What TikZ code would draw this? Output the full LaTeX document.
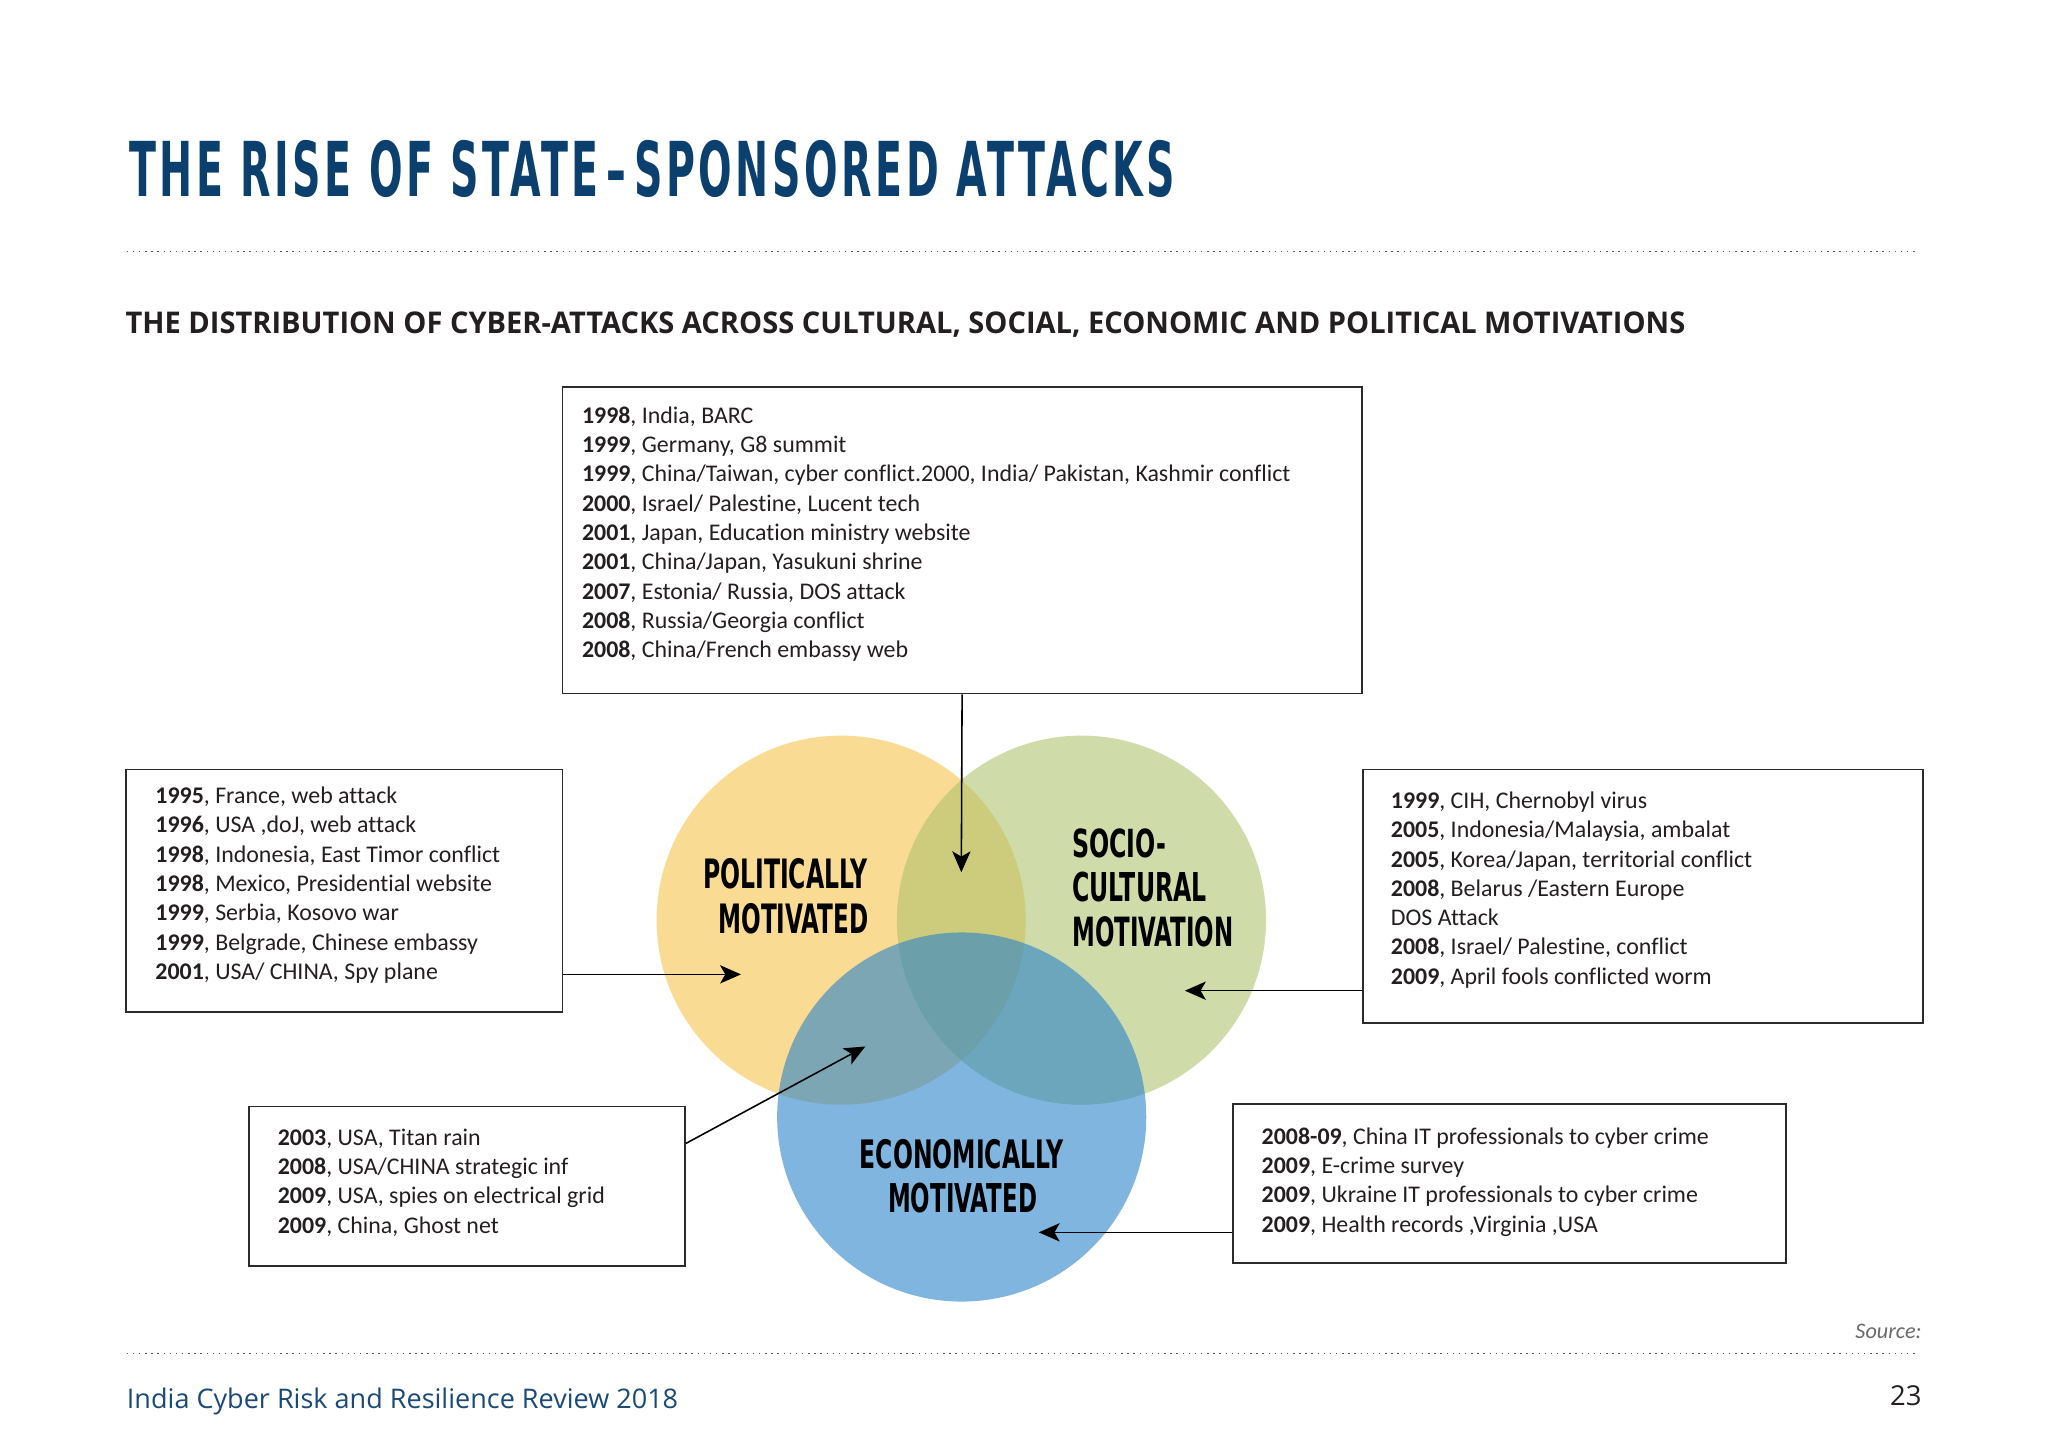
\documentclass[tikz,border=0pt]{standalone}
\usepackage{fontspec}
\usepackage{graphicx}
\setmainfont[Ligatures={TeX,NoCommon}]{Carlito}
\newfontfamily\headfont{DejaVu Sans}
\newfontfamily\titlefont[LetterSpace=9]{DejaVu Sans}
\newfontfamily\subfont{Open Sans}
\usetikzlibrary{arrows.meta}
\definecolor{titleblue}{HTML}{0A3F6E}
\definecolor{footblue}{HTML}{1C4A78}
\definecolor{txt}{HTML}{231F20}
\definecolor{boxgray}{HTML}{2B2B2B}
\definecolor{dotgray}{HTML}{555555}
\definecolor{srcgray}{HTML}{6A6A6A}
\definecolor{yellowc}{RGB}{248,195,77}
\definecolor{greenc}{RGB}{175,195,110}
\definecolor{bluec}{RGB}{42,132,202}
\tikzset{
  box/.style={draw=boxgray, line width=1.2pt, inner sep=0pt, anchor=north west},
  entry/.style={anchor=base west, inner sep=0pt, text=txt, font=\fontsize{18.3}{22.45}\selectfont},
  conn/.style={draw=black, line width=1.2pt, -{Stealth[length=16pt,width=14pt,inset=4pt]}},
  venn/.style={circle, minimum size=282.6pt, inner sep=0pt, draw=none, fill opacity=0.6},
  vlabel/.style={inner sep=0pt, text=black},
  dotline/.style={draw=dotgray, line width=1.1pt, dash pattern=on 1.1pt off 3.6pt},
}
\begin{document}
\begin{tikzpicture}[x=1pt,y=-1pt]
\useasboundingbox[fill=white] (0,0) rectangle (1568,1105);

% header
\node[anchor=base west, inner sep=0pt, text=titleblue] (title) at (98.8,150.1)
  {\resizebox{801pt}{43pt}{\titlefont\bfseries THE RISE OF STATE\kern2pt–\kern2pt SPONSORED ATTACKS}};
\draw[dotline] (97,192.7) -- (1466,192.7);
\node[anchor=base west, inner sep=0pt, text=txt] (subtitle) at (96,255.2)
  {\resizebox{1194pt}{16.6pt}{\subfont\bfseries THE DISTRIBUTION OF CYBER-ATTACKS ACROSS CULTURAL, SOCIAL, ECONOMIC AND POLITICAL MOTIVATIONS}};

% venn circles
\node[venn, fill=yellowc] (pol) at (644,704.5) {};
\node[venn, fill=greenc] (soc) at (828,704.5) {};
\node[venn, fill=bluec] (eco) at (736.3,855.2) {};

% venn labels
\node[vlabel, anchor=base east] (polA) at (664.5,680.4) {\resizebox{126pt}{23pt}{\headfont\bfseries POLITICALLY}};
\node[vlabel, anchor=base east] (polB) at (665.3,714.7) {\resizebox{115pt}{23pt}{\headfont\bfseries MOTIVATED}};
\node[vlabel, anchor=base west] (socA) at (820.7,656.6) {\resizebox{72pt}{22pt}{\headfont\bfseries SOCIO-}};
\node[vlabel, anchor=base west] (socB) at (820.7,690.4) {\resizebox{103pt}{22.6pt}{\headfont\bfseries CULTURAL}};
\node[vlabel, anchor=base west] (socC) at (820.7,725) {\resizebox{123.6pt}{22.9pt}{\headfont\bfseries MOTIVATION}};
\node[vlabel, anchor=base] (ecoA) at (736.3,894.5) {\resizebox{156pt}{22.3pt}{\headfont\bfseries ECONOMICALLY}};
\node[vlabel, anchor=base] (ecoB) at (737,928.3) {\resizebox{114pt}{22.6pt}{\headfont\bfseries MOTIVATED}};

% boxes
\node[box, minimum width=612pt, minimum height=235pt] (topbox) at (430,295.5) {};
\node[box, minimum width=334pt, minimum height=185.5pt] (leftbox) at (96,588.5) {};
\node[box, minimum width=428.5pt, minimum height=194pt] (rightbox) at (1043,588.5) {};
\node[box, minimum width=334pt, minimum height=122pt] (blbox) at (190,846.5) {};
\node[box, minimum width=423.5pt, minimum height=122pt] (brbox) at (943.2,844.5) {};

% box texts
\node[entry] (toptext) at (445.4,324.1) {\begin{tabular}[t]{@{}l@{}}
\textbf{1998}, India, BARC\\
\textbf{1999}, Germany, G8 summit\\
\textbf{1999}, China/Taiwan, cyber conflict.2000, India/ Pakistan, Kashmir conflict\\
\textbf{2000}, Israel/ Palestine, Lucent tech\\
\textbf{2001}, Japan, Education ministry website\\
\textbf{2001}, China/Japan, Yasukuni shrine\\
\textbf{2007}, Estonia/ Russia, DOS attack\\
\textbf{2008}, Russia/Georgia conflict\\
\textbf{2008}, China/French embassy web
\end{tabular}};
\node[entry] (lefttext) at (118.8,615.1) {\begin{tabular}[t]{@{}l@{}}
\textbf{1995}, France, web attack\\
\textbf{1996}, USA ,doJ, web attack\\
\textbf{1998}, Indonesia, East Timor conflict\\
\textbf{1998}, Mexico, Presidential website\\
\textbf{1999}, Serbia, Kosovo war\\
\textbf{1999}, Belgrade, Chinese embassy\\
\textbf{2001}, USA/ CHINA, Spy plane
\end{tabular}};
\node[entry] (righttext) at (1064.7,618.9) {\begin{tabular}[t]{@{}l@{}}
\textbf{1999}, CIH, Chernobyl virus\\
\textbf{2005}, Indonesia/Malaysia, ambalat\\
\textbf{2005}, Korea/Japan, territorial conflict\\
\textbf{2008}, Belarus /Eastern Europe\\
DOS Attack\\
\textbf{2008}, Israel/ Palestine, conflict\\
\textbf{2009}, April fools conflicted worm
\end{tabular}};
\node[entry] (bltext) at (212.5,876.7) {\begin{tabular}[t]{@{}l@{}}
\textbf{2003}, USA, Titan rain\\
\textbf{2008}, USA/CHINA strategic inf\\
\textbf{2009}, USA, spies on electrical grid\\
\textbf{2009}, China, Ghost net
\end{tabular}};
\node[entry] (brtext) at (965.8,876) {\begin{tabular}[t]{@{}l@{}}
\textbf{2008-09}, China IT professionals to cyber crime\\
\textbf{2009}, E-crime survey\\
\textbf{2009}, Ukraine IT professionals to cyber crime\\
\textbf{2009}, Health records ,Virginia ,USA
\end{tabular}};

% connectors
\coordinate (tipT) at (736,667.8);
\coordinate (tipL) at (567.3,746);
\coordinate (tipR) at (907.2,758.5);
\coordinate (blS) at (524,875.4);
\coordinate (tipBL) at (662.5,801.2);
\coordinate (tipBR) at (795.3,943.5);
\draw[conn] (topbox.south) -- (tipT);
\draw[conn] (leftbox.east |- tipL) -- (tipL);
\draw[conn] (rightbox.west |- tipR) -- (tipR);
\draw[conn] (blbox.east |- blS) -- (tipBL);
\draw[conn] (brbox.west |- tipBR) -- (tipBR);

% footer
\node[anchor=base east, inner sep=0pt, text=srcgray] (source) at (1471.4,1024.7)
  {\fontsize{17}{20}\selectfont\itshape Source:};
\draw[dotline] (97,1036.2) -- (1466,1036.2);
\node[anchor=base west, inner sep=0pt, text=footblue] (footer) at (97,1078.3)
  {\resizebox{422pt}{!}{\subfont India Cyber Risk and Resilience Review 2018}};
\node[anchor=base east, inner sep=0pt, text=txt] (pagenum) at (1471.4,1076)
  {\fontsize{21}{25}\selectfont\subfont 23};
\end{tikzpicture}
\end{document}
